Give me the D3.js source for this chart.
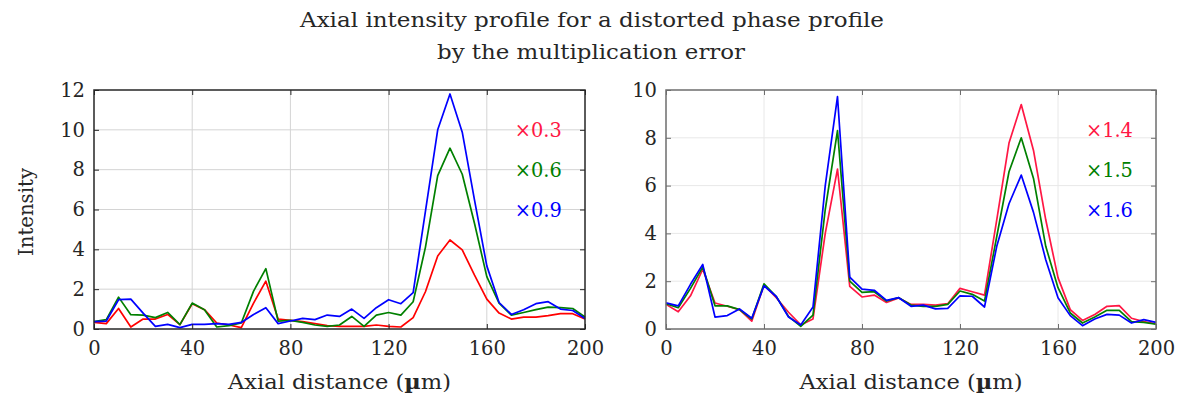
<!DOCTYPE html>
<html>
<head>
<meta charset="utf-8">
<script src="https://cdn.jsdelivr.net/npm/d3@7"></script>
<style>
  body { margin: 0; background: #fff; }
  text { font-family: "DejaVu Serif", "Liberation Serif", serif; }
</style>
</head>
<body>
<div id="main"></div>
<script>
// axial sample positions (µm)
const xs = [0, 5, 10, 15, 20, 25, 30, 35, 40, 45, 50, 55, 60, 65, 70, 75, 80, 85, 90, 95,
  100, 105, 110, 115, 120, 125, 130, 135, 140, 145, 150, 155, 160, 165, 170, 175, 180, 185, 190, 195, 200]

// left panel: multiplication factor < 1
const left03 = [0.33, 0.27, 1.03, 0.1, 0.5, 0.5, 0.73, 0.22, 1.27, 0.97, 0.3, 0.2, 0.07, 1.3, 2.4, 0.5, 0.43, 0.37, 0.27, 0.17,
  0.13, 0.13, 0.13, 0.2, 0.13, 0.1, 0.57, 1.87, 3.67, 4.47, 3.97, 2.7, 1.5, 0.8, 0.5, 0.6, 0.6, 0.67, 0.77, 0.77, 0.5]
const left06 = [0.37, 0.47, 1.6, 0.72, 0.7, 0.57, 0.83, 0.22, 1.3, 0.97, 0.1, 0.17, 0.3, 1.9, 3.03, 0.4, 0.43, 0.33, 0.2, 0.13,
  0.2, 0.63, 0.13, 0.7, 0.83, 0.7, 1.37, 4.1, 7.7, 9.08, 7.77, 5.3, 2.63, 1.3, 0.7, 0.83, 0.97, 1.1, 1.07, 1.03, 0.6]
const left09 = [0.37, 0.4, 1.47, 1.5, 0.8, 0.13, 0.23, 0.07, 0.23, 0.23, 0.27, 0.23, 0.33, 0.73, 1.07, 0.27, 0.4, 0.53, 0.47, 0.7,
  0.63, 1.0, 0.53, 1.07, 1.47, 1.27, 1.83, 5.9, 10.0, 11.8, 9.88, 6.47, 3.17, 1.33, 0.73, 0.97, 1.27, 1.37, 1.0, 0.93, 0.53]

// right panel: multiplication factor > 1
const right14 = [1.03, 0.72, 1.39, 2.5, 1.09, 0.95, 0.81, 0.33, 1.84, 1.31, 0.7, 0.17, 0.42, 4.0, 6.69, 1.78, 1.34, 1.42, 1.11, 1.3,
  1.03, 1.03, 1.0, 1.06, 1.7, 1.56, 1.42, 4.57, 7.78, 9.39, 7.47, 4.57, 2.15, 0.81, 0.36, 0.61, 0.95, 0.98, 0.45, 0.31, 0.22]
const right15 = [1.06, 0.89, 1.7, 2.59, 0.97, 0.97, 0.81, 0.42, 1.89, 1.36, 0.53, 0.11, 0.58, 5.0, 8.3, 2.0, 1.53, 1.56, 1.17, 1.31,
  1.0, 0.95, 0.95, 1.03, 1.59, 1.45, 1.17, 3.87, 6.58, 8.0, 6.3, 3.46, 1.73, 0.67, 0.25, 0.5, 0.78, 0.78, 0.31, 0.28, 0.2]
const right16 = [1.09, 0.97, 1.87, 2.7, 0.5, 0.56, 0.84, 0.45, 1.81, 1.36, 0.5, 0.17, 0.92, 6.0, 9.72, 2.17, 1.67, 1.62, 1.2, 1.31,
  0.95, 1.0, 0.84, 0.86, 1.39, 1.37, 0.92, 3.46, 5.24, 6.44, 4.88, 2.9, 1.31, 0.56, 0.14, 0.42, 0.61, 0.58, 0.25, 0.39, 0.28]

const xTicks = [0, 40, 80, 120, 160, 200]
const leftYTicks = [0, 2, 4, 6, 8, 10, 12]
const rightYTicks = [0, 2, 4, 6, 8, 10]
const leftLabels = ['×0.3', '×0.6', '×0.9']
const rightLabels = ['×1.4', '×1.5', '×1.6']

const W = 1184, H = 396
const ink = '#262626'
const svg = d3.select('#main').append('svg')
  .attr('width', W).attr('height', H)

// title
svg.append('text').attr('x', 592).attr('y', 27).attr('text-anchor', 'middle')
  .attr('font-size', 20).attr('fill', ink)
  .attr('textLength', 584).attr('lengthAdjust', 'spacingAndGlyphs')
  .text('Axial intensity profile for a distorted phase profile')
svg.append('text').attr('x', 591).attr('y', 59).attr('text-anchor', 'middle')
  .attr('font-size', 20).attr('fill', ink)
  .attr('textLength', 308).attr('lengthAdjust', 'spacingAndGlyphs')
  .text('by the multiplication error')

function panel(opts) {
  const { x0, x1, yMax, yTicks, series, labels, axisColor, gridColor } = opts
  const top = 90, bottom = 329
  const x = d3.scaleLinear().domain([0, 200]).range([x0, x1])
  const y = d3.scaleLinear().domain([0, yMax]).range([bottom, top])
  const g = svg.append('g')

  // grid
  g.selectAll('.gx').data(xTicks.slice(1, -1)).enter().append('line')
    .attr('x1', d => x(d)).attr('x2', d => x(d)).attr('y1', top).attr('y2', bottom)
    .attr('stroke', gridColor).attr('stroke-width', 1)
  g.selectAll('.gy').data(yTicks.slice(1, -1)).enter().append('line')
    .attr('y1', d => y(d)).attr('y2', d => y(d)).attr('x1', x0).attr('x2', x1)
    .attr('stroke', gridColor).attr('stroke-width', 1)

  // lines
  const line = d3.line().x((d, i) => x(xs[i])).y(d => y(d))
  series.forEach(s => {
    g.append('path').attr('d', line(s.values))
      .attr('fill', 'none').attr('stroke', s.color).attr('stroke-width', 1.7)
      .attr('stroke-linejoin', 'round')
  })

  // axes (inward ticks, box)
  const tl = 5
  const ax = (sel, axis) => sel.call(axis).call(a => {
    a.select('.domain').remove()
    a.selectAll('line').attr('stroke', axisColor).attr('stroke-width', 1)
    a.selectAll('text').attr('font-size', 19.5).attr('fill', ink)
  })
  g.append('g').attr('transform', `translate(0,${bottom})`)
    .call(s => ax(s, d3.axisBottom(x).tickValues(xTicks).tickSize(-tl).tickPadding(12).tickFormat(d3.format('d'))))
  g.append('g').attr('transform', `translate(0,${top})`)
    .call(s => ax(s, d3.axisTop(x).tickValues(xTicks).tickSize(-tl).tickFormat('')))
  g.append('g').attr('transform', `translate(${x0},0)`)
    .call(s => ax(s, d3.axisLeft(y).tickValues(yTicks).tickSize(-tl).tickPadding(9).tickFormat(d3.format('d'))))
  g.append('g').attr('transform', `translate(${x1},0)`)
    .call(s => ax(s, d3.axisRight(y).tickValues(yTicks).tickSize(-tl).tickFormat('')))
  g.append('rect').attr('x', x0).attr('y', top).attr('width', x1 - x0).attr('height', bottom - top)
    .attr('fill', 'none').attr('stroke', axisColor).attr('stroke-width', 1.5)

  // series labels
  labels.forEach((t, i) => {
    g.append('text').attr('x', x0 + (x1 - x0) * 0.857).attr('y', 130 + i * 40)
      .attr('dy', '0.36em').attr('font-size', 20).attr('fill', series[i].labelColor || series[i].color)
      .attr('textLength', 47).attr('lengthAdjust', 'spacingAndGlyphs')
      .text(t)
  })

  // x label
  const xl = g.append('text').attr('x', (x0 + x1) / 2).attr('y', 389)
    .attr('text-anchor', 'middle').attr('font-size', 20).attr('fill', ink)
    .attr('textLength', 223).attr('lengthAdjust', 'spacingAndGlyphs')
  xl.append('tspan').text('Axial distance (')
  xl.append('tspan').attr('font-weight', 'bold').text('µ')
  xl.append('tspan').text('m)')
  return g
}

panel({
  x0: 94, x1: 585, yMax: 12, yTicks: leftYTicks, labels: leftLabels,
  axisColor: '#262626', gridColor: '#d4d4d4',
  series: [
    { values: left03, color: '#ff0000', labelColor: '#ff1744' },
    { values: left06, color: '#008000' },
    { values: left09, color: '#0000ff' }
  ]
})
panel({
  x0: 666, x1: 1156, yMax: 10, yTicks: rightYTicks, labels: rightLabels,
  axisColor: '#6e6e6e', gridColor: '#e8e8e8',
  series: [
    { values: right14, color: '#ff1744' },
    { values: right15, color: '#008000' },
    { values: right16, color: '#0000ff' }
  ]
})

// y label (left panel only)
svg.append('text').attr('transform', 'translate(33,212) rotate(-90)')
  .attr('text-anchor', 'middle').attr('font-size', 20).attr('fill', ink)
  .attr('textLength', 88).attr('lengthAdjust', 'spacingAndGlyphs')
  .text('Intensity')
</script>
</body>
</html>
